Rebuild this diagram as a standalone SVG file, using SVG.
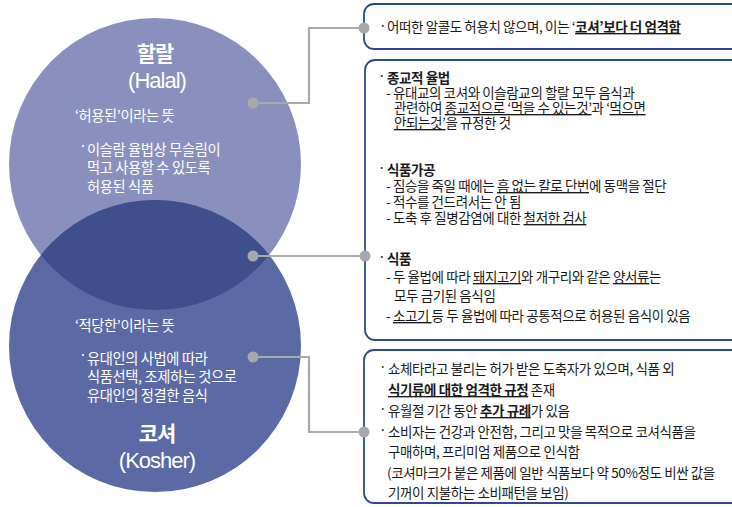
<svg xmlns="http://www.w3.org/2000/svg" width="732" height="507" viewBox="0 0 732 507">
<style>
.kr{font-family:"Noto Sans CJK KR","Noto Sans",sans-serif}
.lat{font-family:"Liberation Sans",Arial,sans-serif}
.c{fill:#ffffff}
.t{font-family:"Noto Sans CJK KR","Noto Sans",sans-serif;font-size:13.5px;fill:#1a1a1a;letter-spacing:-0.4px}
.ct{font-family:"Noto Sans CJK KR","Noto Sans",sans-serif;font-size:14.3px;fill:#fff;letter-spacing:-0.4px}
.b{font-weight:bold}
.u{text-decoration:underline}
.box{fill:#fff;stroke:#2c4a8e;stroke-width:1.8}
.ln{fill:none;stroke:#aaaaaa;stroke-width:2.2}
.dot{fill:#a8a8a8}
</style>
<defs><clipPath id="hc"><circle cx="155" cy="164" r="146"/></clipPath></defs>

<g id="halal">
<circle cx="155" cy="164" r="146" fill="#8b8fbe"/>
</g>
<g id="kosher">
<circle cx="155" cy="346" r="146" fill="#5b69a4"/>
</g>
<g id="overlap">
<circle cx="155" cy="346" r="146" fill="#3e4f8b" clip-path="url(#hc)"/>
</g>

<g id="halal-text">
<text x="155" y="61" text-anchor="middle" class="kr c b" font-size="21" letter-spacing="-1">할랄</text>
<text x="157" y="88" text-anchor="middle" class="lat c" font-size="22" letter-spacing="-1">(Halal)</text>
<text x="75" y="121" class="ct">‘허용된’이라는 뜻</text>
<text x="79" y="151" class="ct">·</text>
<text x="87" y="155" class="ct">이슬람 율법상 무슬림이</text>
<text x="87" y="173" class="ct">먹고 사용할 수 있도록</text>
<text x="87" y="192" class="ct">허용된 식품</text>
</g>

<g id="kosher-text">
<text x="75" y="331" class="ct">‘적당한’이라는 뜻</text>
<text x="79" y="360" class="ct">·</text>
<text x="87" y="364" class="ct">유대인의 사법에 따라</text>
<text x="87" y="382" class="ct">식품선택, 조제하는 것으로</text>
<text x="87" y="401" class="ct">유대인의 정결한 음식</text>
<text x="157" y="441" text-anchor="middle" class="kr c b" font-size="21" letter-spacing="-1">코셔</text>
<text x="157" y="468" text-anchor="middle" class="lat c" font-size="22" letter-spacing="-1">(Kosher)</text>
</g>

<g id="box1">
<rect x="364" y="4" width="400" height="45" rx="10" class="box"/>
<text x="379" y="31" class="t">·</text>
<text x="387" y="32" class="t">어떠한 알콜도 허용치 않으며, 이는 ‘<tspan class="b u">코셔’보다 더 엄격함</tspan></text>
</g>

<g id="box2">
<rect x="365" y="60" width="400" height="280" rx="10" class="box"/>
<text x="378" y="81" class="t">·</text>
<text x="387" y="83" class="t b">종교적 율법</text>
<text x="386" y="98" class="t">- 유대교의 코셔와 이슬람교의 할랄 모두 음식과</text>
<text x="394" y="113" class="t">관련하여 <tspan class="u">종교적으로 ‘먹을 수 있는것’</tspan>과 ‘<tspan class="u">먹으면</tspan></text>
<text x="394" y="128" class="t"><tspan class="u">안되는것’</tspan>을 규정한 것</text>
<text x="378" y="173" class="t">·</text>
<text x="387" y="175" class="t b">식품가공</text>
<text x="386" y="191" class="t">- 짐승을 죽일 때에는 <tspan class="u">흠 없는 칼로 단번</tspan>에 동맥을 절단</text>
<text x="386" y="207" class="t">- 적수를 건드려서는 안 됨</text>
<text x="386" y="223" class="t">- 도축 후 질병감염에 대한 <tspan class="u">철저한 검사</tspan></text>
<text x="378" y="262" class="t">·</text>
<text x="387" y="264" class="t b">식품</text>
<text x="386" y="282" class="t">- 두 율법에 따라 <tspan class="u">돼지고기</tspan>와 개구리와 같은 <tspan class="u">양서류</tspan>는</text>
<text x="394" y="301" class="t">모두 금기된 음식임</text>
<text x="386" y="321" class="t">- <tspan class="u">소고기 </tspan>등 두 율법에 따라 공통적으로 허용된 음식이 있음</text>
</g>

<g id="box3">
<rect x="364" y="350" width="400" height="153" rx="10" class="box"/>
<text x="379" y="372" class="t">·</text>
<text x="388" y="374" class="t">쇼체타라고 불리는 허가 받은 도축자가 있으며, 식품 외</text>
<text x="388" y="395" class="t"><tspan class="b u">식기류에 대한 엄격한 규정</tspan> 존재</text>
<text x="379" y="414" class="t">·</text>
<text x="388" y="416" class="t">유월절 기간 동안 <tspan class="b u">추가 규례</tspan>가 있음</text>
<text x="379" y="435" class="t">·</text>
<text x="388" y="437" class="t">소비자는 건강과 안전함, 그리고 맛을 목적으로 코셔식품을</text>
<text x="388" y="457" class="t">구매하며, 프리미엄 제품으로 인식함</text>
<text x="387" y="478" class="t">(코셔마크가 붙은 제품에 일반 식품보다 약 50%정도 비싼 값을</text>
<text x="388" y="498" class="t">기꺼이 지불하는 소비패턴을 보임)</text>
</g>

<g id="connectors">
<path d="M253,103 H309 V28 H364" class="ln"/>
<path d="M253,256 H365" class="ln"/>
<path d="M253,357 H309 V432 H364" class="ln"/>
<circle cx="253" cy="103" r="5.5" class="dot"/>
<circle cx="364" cy="28" r="5.5" class="dot"/>
<circle cx="253" cy="256" r="5.5" class="dot"/>
<circle cx="365" cy="256" r="5.5" class="dot"/>
<circle cx="253" cy="357" r="5.5" class="dot"/>
<circle cx="364" cy="432" r="5.5" class="dot"/>
</g>
</svg>
